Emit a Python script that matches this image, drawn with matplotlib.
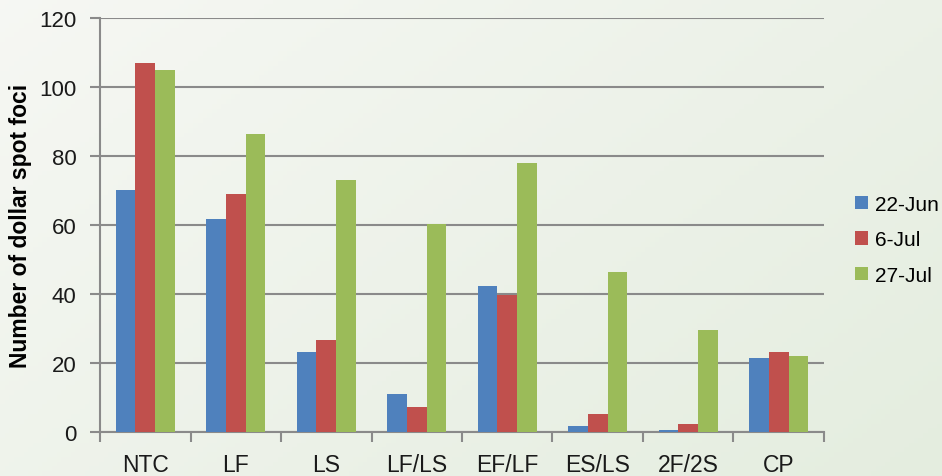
import numpy as np
import matplotlib.pyplot as plt
from matplotlib.patches import Patch

plt.rcParams['font.family'] = ['Liberation Sans', 'DejaVu Sans']

categories = ['NTC', 'LF', 'LS', 'LF/LS', 'EF/LF', 'ES/LS', '2F/2S', 'CP']
dates = ['22-Jun', '6-Jul', '27-Jul']
jun22 = [70.3, 61.7, 23.4, 11.1, 42.5, 1.9, 0.8, 21.6]
jul6 = [107.0, 69.2, 26.8, 7.2, 39.9, 5.4, 2.5, 23.4]
jul27 = [105.1, 86.6, 73.2, 60.3, 78.0, 46.6, 29.7, 22.2]
colors = ['#4F81BD', '#C0504D', '#9BBB59']

fig = plt.figure(figsize=(9.42, 4.77), dpi=100)

# gradient background
bg = fig.add_axes([0, 0, 1, 1], zorder=-10)
gx, gy = np.meshgrid(np.linspace(0, 1, 200), np.linspace(0, 1, 100))
t = (gx * 0.6 + gy * 0.4)
c0 = np.array([0.965, 0.970, 0.955])
c1 = np.array([0.895, 0.930, 0.875])
img = c0[None, None, :] * (1 - t[..., None]) + c1[None, None, :] * t[..., None]
bg.imshow(img, aspect='auto', extent=[0, 1, 0, 1])
bg.axis('off')

ax = fig.add_axes([0.1062, 0.0916, 0.7685, 0.8679])
ax.set_facecolor('none')

x = np.arange(len(categories))
w = 0.217
for i, (vals, lab) in enumerate(zip([jun22, jul6, jul27], dates)):
    ax.bar(x + (i - 1) * w, vals, w, color=colors[i], label=lab, zorder=3)

ax.set_xlim(-0.5, len(categories) - 0.5)
ax.set_ylim(0, 120)
ax.set_yticks(range(0, 121, 20))
ax.yaxis.grid(True, color='#8a8a8a', linewidth=1.5, zorder=0)
ax.set_axisbelow(True)

for s in ['top', 'right']:
    ax.spines[s].set_visible(False)
for s in ['left', 'bottom']:
    ax.spines[s].set_color('#8a8a8a')
    ax.spines[s].set_linewidth(1.5)

ax.set_xticks(x)
ax.set_xticklabels(categories)
ax.set_xticks(np.arange(-0.5, len(categories)), minor=True)
ax.tick_params(axis='x', which='major', length=0, pad=15, labelsize=16.5, labelcolor='#1a1a1a')
ax.tick_params(axis='x', which='minor', length=7, width=1.5, color='#8a8a8a', direction='out')
ax.tick_params(axis='y', length=7, width=1.5, color='#8a8a8a', pad=10, labelsize=16, labelcolor='#1a1a1a')

ax.set_ylabel('Number of dollar spot foci', fontsize=16.5, fontweight='bold', labelpad=5)

handles = [Patch(facecolor=c, label=d) for c, d in zip(colors, dates)]
fig.legend(handles=handles, loc='center left', bbox_to_anchor=(0.899, 0.495),
           frameon=False, fontsize=15, handlelength=0.6, handleheight=0.6,
           handletextpad=0.35, labelspacing=0.78, borderaxespad=0)

fig.savefig('out.png', dpi=100)
